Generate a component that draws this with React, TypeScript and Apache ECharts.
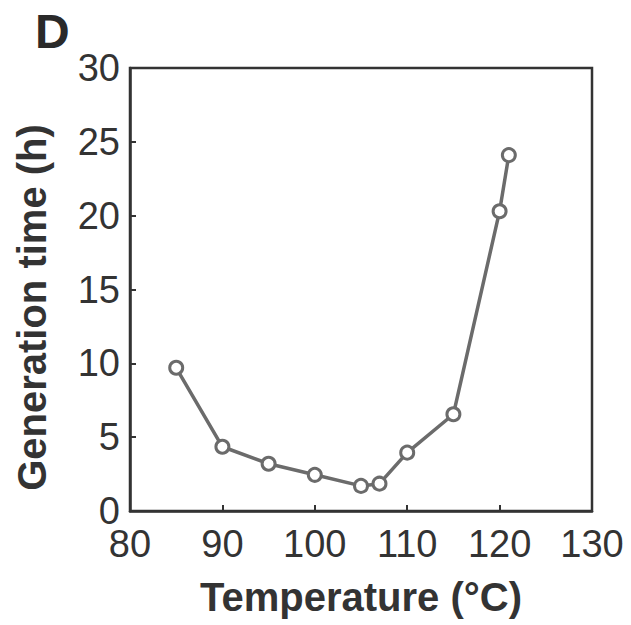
import React, { useEffect, useRef } from "react";
import * as echarts from "echarts";

const temperatures = [85, 90, 95, 100, 105, 107, 110, 115, 120, 121];
const generationTimes = [9.7, 4.35, 3.2, 2.45, 1.7, 1.85, 3.95, 6.55, 20.3, 24.1];
const xTicks = [80, 90, 100, 110, 120, 130];
const yTicks = [0, 5, 10, 15, 20, 25, 30];

export default function App() {
  const ref = useRef<HTMLDivElement>(null);
  useEffect(() => {
    if (!ref.current) return;
    const chart = echarts.init(ref.current, null, { renderer: "svg" });
    const font = "Liberation Sans, Arial, Helvetica, sans-serif";
    const textColor = "#333";
    chart.setOption({
      animation: false,
      backgroundColor: "#fff",
      grid: {
        left: 130,
        right: 39,
        top: 68,
        bottom: 114,
        show: true,
        borderColor: "#333",
        borderWidth: 2.5,
        backgroundColor: "transparent",
      },
      graphic: [
        {
          type: "text",
          left: 35,
          top: 7,
          style: { text: "D", font: `bold 48px ${font}`, fill: "#2a2a2a" },
        },
      ],
      xAxis: {
        type: "value",
        min: xTicks[0],
        max: xTicks[xTicks.length - 1],
        interval: 10,
        name: "Temperature (\u00b0C)",
        nameLocation: "middle",
        nameGap: 66,
        nameTextStyle: { fontFamily: font, fontWeight: "bold", fontSize: 40, color: textColor },
        axisLine: { show: true, lineStyle: { color: "#333", width: 2.5 } },
        axisTick: { show: true, inside: true, length: 6, lineStyle: { color: "#333", width: 2 } },
        axisLabel: {
          fontFamily: font,
          fontSize: 38,
          color: textColor,
          margin: 14,
          customValues: xTicks,
        },
        splitLine: { show: false },
      },
      yAxis: {
        type: "value",
        min: yTicks[0],
        max: yTicks[yTicks.length - 1],
        interval: 5,
        name: "Generation time (h)",
        nameLocation: "middle",
        nameGap: 78,
        nameTextStyle: {
          fontFamily: font,
          fontWeight: "bold",
          fontSize: 40,
          color: textColor,
          padding: [0, 0, 0, -36],
        },
        axisLine: { show: true, lineStyle: { color: "#333", width: 2.5 } },
        axisTick: { show: true, inside: true, length: 6, lineStyle: { color: "#333", width: 2 } },
        axisLabel: { fontFamily: font, fontSize: 38, lineHeight: 26, color: textColor, margin: 10 },
        splitLine: { show: false },
      },
      series: [
        {
          type: "line",
          data: temperatures.map((t, i) => [t, generationTimes[i]]),
          symbol: "circle",
          symbolSize: 13,
          showAllSymbol: true,
          lineStyle: { color: "#6b6b6b", width: 3.5 },
          itemStyle: { color: "#fff", borderColor: "#6b6b6b", borderWidth: 3 },
        },
      ],
    });
    return () => chart.dispose();
  }, []);
  return (
    <div
      ref={ref}
      style={{ position: "fixed", left: 0, top: 0, width: 631, height: 625 }}
    />
  );
}
